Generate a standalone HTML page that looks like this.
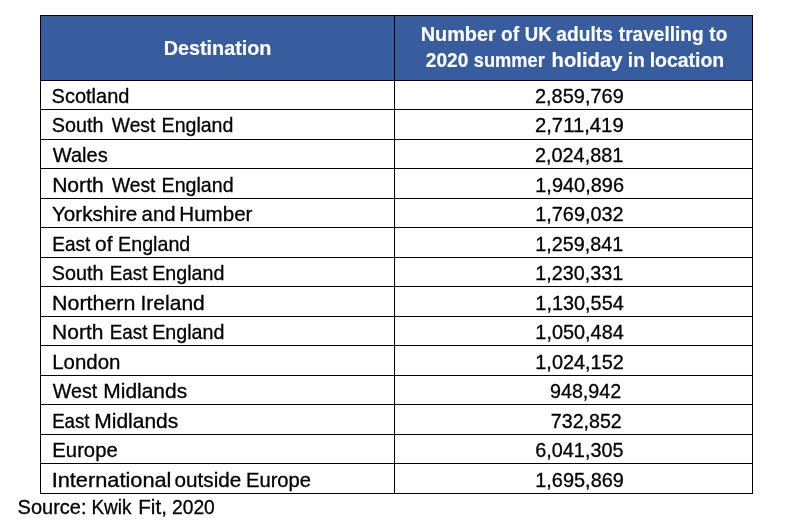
<!DOCTYPE html>
<html lang="en"><head><meta charset="utf-8"><title>UK adults travelling to 2020 summer holiday in location</title>
<style>
html,body{margin:0;padding:0;background:#fff;}
body{width:794px;height:528px;position:relative;overflow:hidden;font-family:"Liberation Sans",sans-serif;color:#000;}
.hd{position:absolute;left:40px;top:15px;width:713px;height:66px;background:#385d9f;}
.ln{position:absolute;background:#000;}
.r{position:absolute;left:0;top:0;width:0;height:0;}
.w{position:absolute;left:0;white-space:pre;-webkit-text-stroke:0.3px #000;font-size:19.8px;line-height:24px;height:24px;transform-origin:0 0;display:block;}
.n{font-size:19.8px;}
.h .w{font-weight:bold;color:#fff;-webkit-text-stroke:0.15px #fff;font-size:19.5px;}
</style></head><body>

<div class="hd"></div>
<div class="ln" style="left:40px;top:15px;width:713px;height:1px"></div>
<div class="ln" style="left:40px;top:80px;width:713px;height:1px"></div>
<div class="ln" style="left:40px;top:109px;width:713px;height:1px"></div>
<div class="ln" style="left:40px;top:139px;width:713px;height:1px"></div>
<div class="ln" style="left:40px;top:168px;width:713px;height:1px"></div>
<div class="ln" style="left:40px;top:198px;width:713px;height:1px"></div>
<div class="ln" style="left:40px;top:227px;width:713px;height:1px"></div>
<div class="ln" style="left:40px;top:257px;width:713px;height:1px"></div>
<div class="ln" style="left:40px;top:286px;width:713px;height:1px"></div>
<div class="ln" style="left:40px;top:316px;width:713px;height:1px"></div>
<div class="ln" style="left:40px;top:345px;width:713px;height:1px"></div>
<div class="ln" style="left:40px;top:375px;width:713px;height:1px"></div>
<div class="ln" style="left:40px;top:404px;width:713px;height:1px"></div>
<div class="ln" style="left:40px;top:434px;width:713px;height:1px"></div>
<div class="ln" style="left:40px;top:463px;width:713px;height:1px"></div>
<div class="ln" style="left:40px;top:493px;width:713px;height:1px"></div>
<div class="ln" style="left:40px;top:15px;width:1px;height:479px"></div>
<div class="ln" style="left:394px;top:15px;width:1px;height:479px"></div>
<div class="ln" style="left:752px;top:15px;width:1px;height:479px"></div>
<div class="r h"><span class="w" style="top:36px;transform:translateX(163.74px) scaleX(1.0137)">Destination</span></div>
<div class="r h"><span class="w" style="top:22px;transform:translateX(420.68px) scaleX(1.0182)">Number</span> <span class="w" style="top:22px;transform:translateX(500.99px) scaleX(0.9795)">of</span> <span class="w" style="top:22px;transform:translateX(524.74px) scaleX(0.9530)">UK</span> <span class="w" style="top:22px;transform:translateX(556.36px) scaleX(0.9829)">adults</span> <span class="w" style="top:22px;transform:translateX(618.8px) scaleX(0.9792)">travelling</span> <span class="w" style="top:22px;transform:translateX(709.32px) scaleX(0.9754)">to</span></div>
<div class="r h"><span class="w" style="top:48px;transform:translateX(425.87px) scaleX(0.9767)">2020</span> <span class="w" style="top:48px;transform:translateX(473.81px) scaleX(0.9357)">summer</span> <span class="w" style="top:48px;transform:translateX(551.6px) scaleX(1.0393)">holiday</span> <span class="w" style="top:48px;transform:translateX(627.87px) scaleX(0.9729)">in</span> <span class="w" style="top:48px;transform:translateX(649.66px) scaleX(0.9978)">location</span></div>
<div class="r"><span class="w" style="top:84px;transform:translateX(51.58px) scaleX(1.0112)">Scotland</span> <span class="w n" style="top:84px;transform:translateX(534.97px) scaleX(1.0087)">2,859,769</span></div>
<div class="r"><span class="w" style="top:113px;transform:translateX(51.86px) scaleX(0.9988)">South</span> <span class="w" style="top:113px;transform:translateX(111.78px) scaleX(0.9747)">West</span> <span class="w" style="top:113px;transform:translateX(161.61px) scaleX(0.9880)">England</span> <span class="w n" style="top:113px;transform:translateX(534.95px) scaleX(1.0253)">2,711,419</span></div>
<div class="r"><span class="w" style="top:143px;transform:translateX(52.72px) scaleX(1.0130)">Wales</span> <span class="w n" style="top:143px;transform:translateX(534.93px) scaleX(1.0040)">2,024,881</span></div>
<div class="r"><span class="w" style="top:173px;transform:translateX(52.13px) scaleX(1.0671)">North</span> <span class="w" style="top:173px;transform:translateX(111.96px) scaleX(0.9721)">West</span> <span class="w" style="top:173px;transform:translateX(161.57px) scaleX(0.9916)">England</span> <span class="w n" style="top:173px;transform:translateX(535.27px) scaleX(1.0083)">1,940,896</span></div>
<div class="r"><span class="w" style="top:202px;transform:translateX(51.98px) scaleX(1.0432)">Yorkshire</span> <span class="w" style="top:202px;transform:translateX(141.6px) scaleX(1.0253)">and</span> <span class="w" style="top:202px;transform:translateX(179.28px) scaleX(1.0397)">Humber</span> <span class="w n" style="top:202px;transform:translateX(535.25px) scaleX(1.0040)">1,769,032</span></div>
<div class="r"><span class="w" style="top:232px;transform:translateX(52.25px) scaleX(0.9593)">East</span> <span class="w" style="top:232px;transform:translateX(95px) scaleX(1.0579)">of</span> <span class="w" style="top:232px;transform:translateX(118.12px) scaleX(0.9944)">England</span> <span class="w n" style="top:232px;transform:translateX(535.3px) scaleX(0.9991)">1,259,841</span></div>
<div class="r"><span class="w" style="top:261px;transform:translateX(51.86px) scaleX(0.9988)">South</span> <span class="w" style="top:261px;transform:translateX(109.83px) scaleX(0.9496)">East</span> <span class="w" style="top:261px;transform:translateX(152.17px) scaleX(0.9946)">England</span> <span class="w n" style="top:261px;transform:translateX(535.3px) scaleX(0.9991)">1,230,331</span></div>
<div class="r"><span class="w" style="top:291px;transform:translateX(52.05px) scaleX(1.0819)">Northern</span> <span class="w" style="top:291px;transform:translateX(140.51px) scaleX(1.0620)">Ireland</span> <span class="w n" style="top:291px;transform:translateX(535.36px) scaleX(1.0043)">1,130,554</span></div>
<div class="r"><span class="w" style="top:320px;transform:translateX(52.11px) scaleX(1.0609)">North</span> <span class="w" style="top:320px;transform:translateX(109.83px) scaleX(0.9496)">East</span> <span class="w" style="top:320px;transform:translateX(152.17px) scaleX(0.9946)">England</span> <span class="w n" style="top:320px;transform:translateX(535.36px) scaleX(1.0043)">1,050,484</span></div>
<div class="r"><span class="w" style="top:350px;transform:translateX(52.23px) scaleX(1.0335)">London</span> <span class="w n" style="top:350px;transform:translateX(535.29px) scaleX(1.0057)">1,024,152</span></div>
<div class="r"><span class="w" style="top:379px;transform:translateX(52.73px) scaleX(0.9945)">West</span> <span class="w" style="top:379px;transform:translateX(103.3px) scaleX(1.0590)">Midlands</span> <span class="w n" style="top:379px;transform:translateX(549.93px) scaleX(0.9981)">948,942</span></div>
<div class="r"><span class="w" style="top:409px;transform:translateX(52.14px) scaleX(0.9444)">East</span> <span class="w" style="top:409px;transform:translateX(94.28px) scaleX(1.0613)">Midlands</span> <span class="w n" style="top:409px;transform:translateX(550.81px) scaleX(0.9923)">732,852</span></div>
<div class="r"><span class="w" style="top:438px;transform:translateX(52.37px) scaleX(1.0234)">Europe</span> <span class="w n" style="top:438px;transform:translateX(535.32px) scaleX(1.0011)">6,041,305</span></div>
<div class="r"><span class="w" style="top:468px;transform:translateX(51.63px) scaleX(1.1005)">International</span> <span class="w" style="top:468px;transform:translateX(174.56px) scaleX(1.0457)">outside</span> <span class="w" style="top:468px;transform:translateX(245.98px) scaleX(1.0195)">Europe</span> <span class="w n" style="top:468px;transform:translateX(535.25px) scaleX(1.0069)">1,695,869</span></div>
<div class="r"><span class="w" style="top:495px;transform:translateX(17.55px) scaleX(1.0117)">Source:</span> <span class="w" style="top:495px;transform:translateX(91.4px) scaleX(0.9614)">Kwik</span> <span class="w" style="top:495px;transform:translateX(138.31px) scaleX(1.0389)">Fit,</span> <span class="w" style="top:495px;transform:translateX(171.99px) scaleX(0.9729)">2020</span></div>
</body></html>
